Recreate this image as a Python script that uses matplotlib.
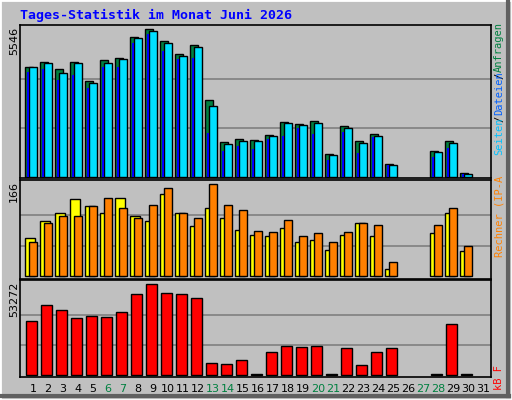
import matplotlib
matplotlib.use("Agg")
import matplotlib.pyplot as plt
from matplotlib.patches import Rectangle

days = list(range(1, 32))
hits = [4115,4316,4040,4316,3601,4379,4454,5245,5546,5094,4605,4944,2886,1292,1405,1368,1556,2045,1970,2083,841,1895,1330,1593,464,0,0,954,1330,125,0]
files = [4115,4266,3890,4266,3513,4266,4417,5207,5471,5019,4530,4893,2647,1217,1330,1330,1518,2008,1932,2008,803,1819,1255,1518,427,0,0,916,1255,88,0]
pages = [3940,4040,3639,3814,3325,4128,4128,5019,5358,4730,4417,4467,1631,966,1154,1029,1405,1531,1819,1593,615,1669,878,1481,427,0,0,728,1067,88,0]
visits = [69,99,114,139,126,114,141,108,99,148,114,90,123,106,83,74,72,87,61,65,47,74,96,72,13,0,0,78,115,45,0]
sites = [61,96,108,108,126,141,124,106,128,159,114,105,166,128,119,81,79,101,72,78,61,79,96,92,25,0,0,92,123,54,0]
kbytes = [31610,40976,38050,33367,34538,33953,36880,47417,53272,48002,47417,45075,7025,6439,8781,600,13464,16976,16391,16976,600,15806,5854,13464,15806,0,0,600,29855,600,0]
weekend = [6,7,13,14,20,21,27,28]
max_hits, max_visits, max_kb = 5546, 166, 53272
title = "Tages-Statistik im Monat Juni 2026"

W, H = 512, 400
fig = plt.figure(figsize=(W/100, H/100), dpi=100)
fig.patch.set_facecolor("#C0C0C0")
fig.add_artist(Rectangle((0, 0), 1, 1, transform=fig.transFigure, fill=False, ec="white", lw=2))
fig.add_artist(plt.Line2D([2/W, (W-3)/W], [4/H, 4/H], transform=fig.transFigure, color="#606060", lw=3))
fig.add_artist(plt.Line2D([(W-4)/W, (W-4)/W], [4/H, (H-2)/H], transform=fig.transFigure, color="#606060", lw=3))

def ax_px(x0, y0, x1, y1):
    return fig.add_axes([x0/W, 1-y1/H, (x1-x0)/W, (y1-y0)/H])

xl = (0.27, 31.67)
mono = "DejaVu Sans Mono"

def style(ax, mx, lo, hi):
    ax.set_facecolor("#C0C0C0")
    ax.set_xlim(*xl)
    ax.set_ylim(lo*mx, hi*mx)
    ax.set_xticks([]); ax.set_yticks([])
    for f in (1/3, 2/3):
        ax.axhline(f*mx, color="#808080", lw=1.2, zorder=0)
    for s in ax.spines.values():
        s.set_color("black"); s.set_linewidth(1.2)

def bars(ax, vals, off, width, **kw):
    xs = [d + off for d, v in zip(days, vals) if v > 0]
    vs = [v for v in vals if v > 0]
    ax.bar(xs, vs, width=width, **kw)

ax1 = ax_px(20, 25, 491, 178)
style(ax1, max_hits, -0.008, 1.03)
bars(ax1, hits, -0.135, 0.53, color="#008040", ec="black", lw=1)
bars(ax1, files, 0.135, 0.53, color="#00E0FF", ec="black", lw=1)
bars(ax1, pages, -0.2, 0.13, color="#0000FF", lw=0)

ax2 = ax_px(20, 180, 491, 279)
style(ax2, max_visits, -0.03, 1.047)
bars(ax2, visits, -0.07, 0.67, color="#FFFF00", ec="black", lw=1)
bars(ax2, sites, 0.135, 0.53, color="#FF8000", ec="black", lw=1)

ax3 = ax_px(20, 280, 491, 377)
style(ax3, max_kb, -0.022, 1.048)
bars(ax3, kbytes, 0.035, 0.73, color="#FF0000", ec="black", lw=1)

for dd in days:
    fig.text((31 + (dd-1)*15 + 2)/W, 1-389/H, str(dd), ha="center", va="center",
             fontsize=8, color="#008040" if dd in weekend else "black")

fig.text(20/W, 1-15/H, title, fontsize=9.5, fontweight="bold", color="#0000FF",
         family=mono, va="center")
for lab, ytop in (("5546", 27), ("166", 181), ("53272", 282)):
    fig.text(14/W, 1-ytop/H, lab, rotation=90, fontsize=8, ha="center", va="top")

def rtext(s, ybot, color, size=7.5):
    fig.text(499/W, 1-ybot/H, s, rotation=90, fontsize=size, color=color,
             ha="center", va="bottom", family=mono)

rtext("Anfragen", 72, "#008040")
rtext("/", 79, "black")
rtext("Dateien", 115, "#0060FF")
rtext("/", 122, "black")
rtext("Seiten", 155, "#00C0FF")
rtext("Rechner (IP-A", 257, "#FF8000")
rtext("kB F", 390, "#FF0000")

fig.savefig("out.png", dpi=100, facecolor=fig.get_facecolor())
